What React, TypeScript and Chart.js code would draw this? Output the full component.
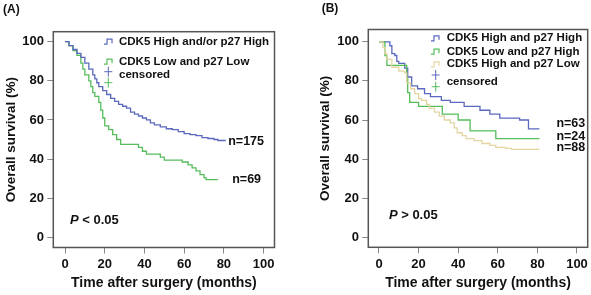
import { useEffect, useRef } from 'react';
import { Chart, registerables } from 'chart.js';

Chart.register(...registerables);

const FONT = "'Liberation Sans', Arial, Helvetica, sans-serif";

const xTicks = [0, 20, 40, 60, 80, 100];
const yTicks = [0, 20, 40, 60, 80, 100];
const xTitle = 'Time after surgery (months)';
const yTitle = 'Overall survival (%)';

// ---------- Panel A ----------
const aHighTime = [0, 2, 4, 6, 8, 10, 12, 14, 15, 16, 17, 19, 21, 23, 25, 27, 29, 31, 33, 35, 37, 39, 41, 43, 45, 48, 51, 54, 57, 60, 63, 66, 69, 72, 75, 77, 81];
const aHighSurv = [100, 98, 96, 94, 92, 89, 86, 83, 81, 79, 77, 75, 73, 71, 69.5, 68, 67, 66, 64, 63, 62, 61, 60, 58.5, 57.5, 56.5, 55.5, 55, 54, 53, 52.5, 52, 51, 50.5, 50, 49.5, 49.5];
const aLowTime = [0, 2, 4, 6, 8, 9, 10, 12, 13, 14, 15, 17, 18, 19, 20, 22, 24, 26, 28, 37, 39, 41, 48, 50, 59, 62, 64, 66, 68, 70, 71, 77];
const aLowSurv = [100, 98, 95.5, 93, 89, 86, 83, 80, 77, 74, 72, 69, 65, 61, 57, 55, 52.5, 50, 47.5, 46, 44, 42.5, 41, 39.5, 38.5, 37, 35.5, 34, 32, 30.5, 29.5, 29.5];
const aNames = ['CDK5 High and/or p27 High', 'CDK5 Low and p27 Low'];
const aCounts = ['n=175', 'n=69'];
const aPText = '< 0.05';

// ---------- Panel B ----------
const bHHTime = [0, 5.5, 6.5, 8, 9, 10, 13, 14.5, 16.5, 19.5, 23, 26, 31.5, 36, 43, 51, 56, 61, 71, 75.5, 81];
const bHHSurv = [100, 98, 94, 93, 90, 89, 86.5, 82, 77.5, 76, 73.5, 72, 70, 69, 67, 65, 63, 61, 60, 55.5, 55.5];
const bLHTime = [0, 3, 4, 14, 14.5, 15.5, 20, 32, 40, 46, 59, 81];
const bLHSurv = [100, 93, 88, 81, 74, 69, 67, 63, 60, 54.5, 50.5, 50.5];
const bHLTime = [0, 2, 3, 4, 6.5, 10, 13, 14, 16, 18, 20, 21.5, 24, 25.5, 28, 30.5, 33, 36, 38, 39.5, 42, 44, 48, 52, 56, 59, 64, 67, 81];
const bHLSurv = [100, 97, 94, 91, 87, 85, 84, 79, 76, 73.5, 71, 70, 68, 66, 64, 62, 60, 58.5, 56, 53.5, 52, 50.5, 49.5, 48, 47, 46, 45.5, 45, 45];
const bNames = ['CDK5 High and p27 High', 'CDK5 Low and p27 High', 'CDK5 High and p27 Low'];
const bCounts = ['n=63', 'n=24', 'n=88'];
const bPText = '> 0.05';

const BLUE = '#5a68bd';
const GREEN = '#56bd5a';
const TAN = '#e3d6a2';

const pts = (t: number[], s: number[]) => t.map((v, i) => ({ x: v, y: s[i] }));

const decorPlugin = {
  id: 'kmDecor',
  afterDraw(chart: any, _args: any, o: any) {
    const { ctx, chartArea: a, scales } = chart;
    ctx.save();
    ctx.strokeStyle = '#555';
    ctx.lineWidth = 1.5;
    ctx.strokeRect(a.left, a.top, a.right - a.left, a.bottom - a.top);

    ctx.fillStyle = '#111';
    ctx.textBaseline = 'middle';
    ctx.textAlign = 'left';
    ctx.font = `bold 12px ${FONT}`;
    ctx.fillText(o.tag, o.tagX, o.tagY);

    ctx.font = `bold 11.5px ${FONT}`;
    o.legend.forEach((it: any) => {
      const gx = o.glyphX;
      const y = it.y;
      ctx.strokeStyle = it.color;
      ctx.lineWidth = 1.2;
      ctx.beginPath();
      ctx.moveTo(gx, y + 2.5);
      ctx.lineTo(gx + 3, y + 2.5);
      ctx.lineTo(gx + 3, y - 2.5);
      ctx.lineTo(gx + 8, y - 2.5);
      ctx.lineTo(gx + 8, y + 1.5);
      ctx.stroke();
      ctx.fillStyle = '#111';
      ctx.fillText(it.text, o.textX, y);
    });
    o.censor.forEach((c: any) => {
      ctx.strokeStyle = c.color;
      ctx.lineWidth = 1;
      ctx.beginPath();
      ctx.moveTo(o.crossX - 4, c.y);
      ctx.lineTo(o.crossX + 4, c.y);
      ctx.moveTo(o.crossX, c.y - 5);
      ctx.lineTo(o.crossX, c.y + 5);
      ctx.stroke();
    });
    ctx.fillStyle = '#111';
    ctx.fillText('censored', o.textX, o.censorY);

    ctx.font = `bold 12.5px ${FONT}`;
    o.counts.forEach((c: any) => {
      ctx.fillText(c.text, scales.x.getPixelForValue(c.x), scales.y.getPixelForValue(c.y));
    });

    const px = scales.x.getPixelForValue(o.p.x);
    const py = scales.y.getPixelForValue(o.p.y);
    ctx.font = `italic bold 13px ${FONT}`;
    ctx.fillText('P', px, py);
    const w = ctx.measureText('P ').width;
    ctx.font = `bold 13px ${FONT}`;
    ctx.fillText(o.p.text, px + w, py);
    ctx.restore();
  },
};

function makeConfig(p: any): any {
  return {
    type: 'line',
    data: {
      datasets: p.series.map((s: any) => ({
        data: pts(s.t, s.s),
        stepped: 'before',
        borderColor: s.color,
        borderWidth: 1.3,
        pointRadius: 0,
        fill: false,
      })),
    },
    plugins: [decorPlugin],
    options: {
      responsive: false,
      animation: false,
      layout: { padding: { left: 0, top: p.top, right: p.right, bottom: 0 } },
      plugins: {
        legend: { display: false },
        tooltip: { enabled: false },
        kmDecor: p.decor,
      },
      scales: {
        x: {
          type: 'linear',
          min: p.xMin,
          max: p.xMax,
          afterBuildTicks: (sc: any) => {
            sc.ticks = xTicks.map((v) => ({ value: v }));
          },
          afterFit: (sc: any) => {
            sc.height = p.h - p.bottom;
          },
          ticks: { font: { family: FONT, size: 13, weight: 'bold' }, color: '#111', padding: 3 },
          grid: { drawOnChartArea: false, drawTicks: true, tickLength: 6, color: '#888' },
          border: { display: false },
          title: {
            display: true,
            text: xTitle,
            font: { family: FONT, size: 14, weight: 'bold' },
            color: '#111',
            padding: { top: 0, bottom: 3.6 },
          },
        },
        y: {
          type: 'linear',
          min: p.yMin,
          max: p.yMax,
          afterBuildTicks: (sc: any) => {
            sc.ticks = yTicks.map((v) => ({ value: v }));
          },
          afterFit: (sc: any) => {
            sc.width = p.left;
          },
          ticks: { font: { family: FONT, size: 13, weight: 'bold' }, color: '#111', padding: 3.3 },
          grid: { drawOnChartArea: false, drawTicks: true, tickLength: 6, color: '#888' },
          border: { display: false },
          title: {
            display: true,
            text: yTitle,
            font: { family: FONT, size: 13.5, weight: 'bold' },
            color: '#111',
            padding: { top: p.yTitlePad, bottom: 0 },
          },
        },
      },
    },
  };
}

const panelA = {
  h: 295,
  left: 53.3,
  right: 20.5,
  top: 31.7,
  bottom: 247.5,
  xMin: -5.9,
  xMax: 105.5,
  yMin: -5.2,
  yMax: 105.1,
  yTitlePad: 3.3,
  series: [
    { t: aHighTime, s: aHighSurv, color: BLUE },
    { t: aLowTime, s: aLowSurv, color: GREEN },
  ],
  decor: {
    tag: '(A)',
    tagX: 3,
    tagY: 9.5,
    glyphX: 104,
    textX: 119,
    crossX: 108.3,
    censorY: 75,
    legend: [
      { text: aNames[0], color: BLUE, y: 41.7 },
      { text: aNames[1], color: GREEN, y: 61.7 },
    ],
    censor: [
      { color: BLUE, y: 71.7 },
      { color: GREEN, y: 82.7 },
    ],
    counts: [
      { text: aCounts[0], x: 82.2, y: 48.9 },
      { text: aCounts[1], x: 84.2, y: 29.5 },
    ],
    p: { text: aPText, x: 2.5, y: 8.5 },
  },
};

const panelB = {
  h: 295,
  left: 73.3,
  right: 3.3,
  top: 29.5,
  bottom: 247.3,
  xMin: -5.4,
  xMax: 105.4,
  yMin: -5.1,
  yMax: 106.3,
  yTitlePad: 22.6,
  series: [
    { t: bHLTime, s: bHLSurv, color: TAN },
    { t: bLHTime, s: bLHSurv, color: GREEN },
    { t: bHHTime, s: bHHSurv, color: BLUE },
  ],
  decor: {
    tag: '(B)',
    tagX: 26.7,
    tagY: 8.5,
    glyphX: 136,
    textX: 151.7,
    crossX: 140.7,
    censorY: 81.7,
    legend: [
      { text: bNames[0], color: BLUE, y: 38.3 },
      { text: bNames[1], color: GREEN, y: 51.7 },
      { text: bNames[2], color: TAN, y: 64.3 },
    ],
    censor: [
      { color: BLUE, y: 75 },
      { color: GREEN, y: 86.7 },
    ],
    counts: [
      { text: bCounts[0], x: 89.6, y: 58.4 },
      { text: bCounts[1], x: 89.6, y: 51.5 },
      { text: bCounts[2], x: 89.6, y: 45.9 },
    ],
    p: { text: bPText, x: 5, y: 11 },
  },
};

export default function App() {
  const refA = useRef<HTMLCanvasElement>(null);
  const refB = useRef<HTMLCanvasElement>(null);
  useEffect(() => {
    document.body.style.margin = '0';
    const cA = new Chart(refA.current as HTMLCanvasElement, makeConfig(panelA));
    const cB = new Chart(refB.current as HTMLCanvasElement, makeConfig(panelB));
    return () => {
      cA.destroy();
      cB.destroy();
    };
  }, []);
  return (
    <div style={{ position: 'relative', width: 591, height: 295, background: '#fff' }}>
      <canvas ref={refA} width={295} height={295} style={{ position: 'absolute', left: 0, top: 0 }} />
      <canvas ref={refB} width={296} height={295} style={{ position: 'absolute', left: 295, top: 0 }} />
    </div>
  );
}
